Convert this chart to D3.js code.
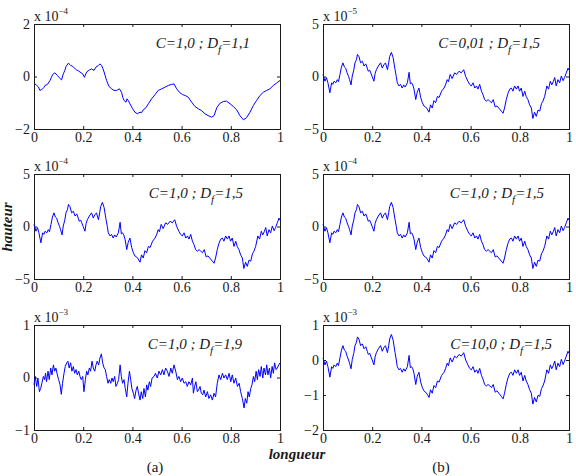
<!DOCTYPE html>
<html>
<head>
<meta charset="utf-8">
<script src="https://cdn.jsdelivr.net/npm/d3@7"></script>
<style>
  body { margin: 0; background: #fff; }
  svg text { font-family: "Liberation Serif", "Times New Roman", serif; }
</style>
</head>
<body>
<div id="chart"></div>
<script>
// ---- data ----
const xTicks = [0, 0.2, 0.4, 0.6, 0.8, 1];
const yTicks = [[-2, 0, 2], [-5, 0, 5], [-5, 0, 5], [-5, 0, 5], [-1, 0, 1], [-2, -1, 0, 1]];
const exponents = [-4, -5, -4, -4, -3, -3];
const cValues = ["1,0", "0,01", "1,0", "1,0", "1,0", "10,0"];
const dfValues = ["1,1", "1,5", "1,5", "1,5", "1,9", "1,5"];

// D_f = 1.1 profile (x 10^-4)
const xD11 = [0, 0.011, 0.018, 0.024, 0.03, 0.035, 0.04, 0.045, 0.055, 0.065,
  0.07, 0.076, 0.085, 0.095, 0.103, 0.112, 0.119, 0.125, 0.13, 0.14,
  0.149, 0.155, 0.16, 0.167, 0.173, 0.18, 0.187, 0.198, 0.205, 0.214,
  0.225, 0.234, 0.244, 0.252, 0.262, 0.268, 0.275, 0.28, 0.285, 0.295,
  0.305, 0.316, 0.325, 0.336, 0.347, 0.356, 0.361, 0.366, 0.374, 0.378,
  0.383, 0.39, 0.401, 0.41, 0.42, 0.431, 0.437, 0.444, 0.455, 0.465,
  0.478, 0.492, 0.505, 0.512, 0.519, 0.532, 0.546, 0.56, 0.569, 0.58,
  0.591, 0.604, 0.614, 0.627, 0.641, 0.654, 0.668, 0.681, 0.695, 0.708,
  0.722, 0.732, 0.743, 0.756, 0.77, 0.783, 0.797, 0.81, 0.824, 0.837,
  0.851, 0.864, 0.878, 0.892, 0.905, 0.919, 0.932, 0.946, 0.959, 0.973,
  0.986, 1];
const hD11 = [-0.25, -0.34, -0.4, -0.53, -0.5, -0.47, -0.42, -0.34, -0.3, -0.15,
  -0.05, 0.08, 0.14, 0.04, -0.05, -0.13, 0.1, 0.22, 0.38, 0.51,
  0.42, 0.4, 0.36, 0.3, 0.25, 0.22, 0.17, 0.1, -0.03, 0.17,
  0.25, 0.29, 0.23, 0.36, 0.42, 0.48, 0.42, 0.3, 0.17, -0.15,
  -0.38, -0.47, -0.53, -0.53, -0.47, -0.6, -0.8, -0.91, -0.98, -0.85,
  -0.91, -1.04, -1.23, -1.36, -1.42, -1.36, -1.38, -1.27, -1.19, -1.04,
  -0.85, -0.69, -0.53, -0.5, -0.47, -0.41, -0.34, -0.3, -0.28, -0.47,
  -0.6, -0.69, -0.72, -0.79, -0.98, -1.14, -1.23, -1.3, -1.42, -1.49,
  -1.55, -1.49, -1.19, -1.02, -0.95, -0.94, -1.04, -1.14, -1.27, -1.49,
  -1.65, -1.57, -1.36, -1.1, -0.91, -0.72, -0.6, -0.53, -0.47, -0.34,
  -0.25, -0.15];

// D_f = 1.5 profile (x 10^-5 for C=0,01 and x 10^-4 for C=1,0)
const xD15 = [0, 0.008, 0.014, 0.02, 0.028, 0.035, 0.04, 0.045, 0.052, 0.058,
  0.063, 0.069, 0.075, 0.081, 0.087, 0.092, 0.098, 0.104, 0.108, 0.114,
  0.119, 0.125, 0.13, 0.136, 0.14, 0.146, 0.153, 0.16, 0.167, 0.174,
  0.18, 0.184, 0.19, 0.194, 0.2, 0.207, 0.212, 0.217, 0.225, 0.234,
  0.241, 0.247, 0.254, 0.262, 0.267, 0.271, 0.278, 0.285, 0.293, 0.298,
  0.302, 0.309, 0.315, 0.322, 0.328, 0.334, 0.343, 0.35, 0.355, 0.36,
  0.365, 0.37, 0.377, 0.383, 0.39, 0.397, 0.404, 0.41, 0.417, 0.424,
  0.431, 0.437, 0.444, 0.451, 0.458, 0.465, 0.472, 0.482, 0.492, 0.498,
  0.505, 0.51, 0.517, 0.525, 0.535, 0.543, 0.553, 0.562, 0.572, 0.58,
  0.589, 0.596, 0.603, 0.61, 0.617, 0.624, 0.63, 0.637, 0.644, 0.65,
  0.657, 0.664, 0.671, 0.678, 0.685, 0.692, 0.7, 0.707, 0.718, 0.725,
  0.732, 0.738, 0.745, 0.752, 0.759, 0.766, 0.772, 0.779, 0.786, 0.793,
  0.799, 0.806, 0.813, 0.82, 0.826, 0.833, 0.84, 0.847, 0.853, 0.86,
  0.867, 0.874, 0.881, 0.888, 0.894, 0.901, 0.91, 0.917, 0.924, 0.93,
  0.936, 0.942, 0.948, 0.955, 0.962, 0.969, 0.976, 0.982, 0.989, 0.996,
  1];
const hD15 = [0.2, -0.45, -0.1, -0.6, -1.55, -0.6, -0.75, -0.45, -0.6, -0.3,
  -0.5, 0.2, 0.9, 1.3, 0.9, 0.8, 0.35, 0, -0.3, -0.8,
  0.05, 0.6, 1.3, 1.6, 2.1, 1.9, 1.3, 1.45, 1.0, 1.2,
  0.8, 0.5, 0.6, 0.35, 0, -0.45, 0.3, 0.65, 1.0, 1.3,
  0.8, 1.1, 1.3, 0.65, 1.3, 1.9, 2.3, 1.8, 0.65, 0,
  -0.6, -0.9, -0.75, -1.1, -0.8, -1.0, -0.6, 0.4, -0.7, -0.6,
  -0.8, -1.2, -2.2, -1.5, -1.1, -2.0, -2.5, -2.8, -2.9, -3.1,
  -3.4, -2.7, -3.0, -2.3, -2.5, -1.9, -2.0, -1.4, -1.1, -0.8,
  -0.3, -0.5, 0.2, -0.2, 0.35, 0.2, 0.5, 0.35, 0.65, 0,
  -0.45, -0.75, -0.9, -0.6, -1.1, -0.9, -1.2, -0.75, -1.4, -1.7,
  -2.2, -2.35, -2.2, -2.35, -2.5, -2.2, -2.9, -2.8, -3.1, -3.3,
  -3.5, -3.0, -2.2, -1.6, -1.2, -1.1, -1.4, -0.9, -1.2, -0.9,
  -1.4, -1.1, -1.9, -1.4, -1.9, -2.2, -2.7, -3.0, -4.0, -3.4,
  -3.8, -3.2, -3.3, -2.6, -2.35, -1.9, -0.9, -1.2, -0.45, -0.8,
  -0.5, -0.1, -0.9, -0.3, -0.6, 0.05, -0.4, -0.1, 0.35, 0.8,
  0.6];
// C = 10,0 profile (x 10^-3), same abscissae as xD15
const hC10 = [0.06, -0.14, -0.03, -0.19, -0.49, -0.19, -0.24, -0.14, -0.19, -0.09,
  -0.16, 0.06, 0.28, 0.41, 0.28, 0.25, 0.11, 0, -0.09, -0.25,
  0.02, 0.19, 0.41, 0.51, 0.66, 0.6, 0.41, 0.46, 0.32, 0.38,
  0.25, 0.16, 0.19, 0.11, 0, -0.14, 0.09, 0.21, 0.32, 0.41,
  0.25, 0.35, 0.41, 0.21, 0.41, 0.6, 0.73, 0.57, 0.21, 0,
  -0.19, -0.28, -0.24, -0.35, -0.25, -0.32, -0.19, 0.13, -0.22, -0.19,
  -0.25, -0.38, -0.7, -0.47, -0.35, -0.63, -0.79, -0.88, -0.92, -0.98,
  -1.07, -0.85, -0.95, -0.73, -0.79, -0.6, -0.63, -0.44, -0.35, -0.25,
  -0.09, -0.16, 0.06, -0.06, 0.11, 0.06, 0.16, 0.11, 0.21, 0,
  -0.14, -0.24, -0.28, -0.19, -0.35, -0.28, -0.38, -0.24, -0.44, -0.54,
  -0.7, -0.74, -0.7, -0.74, -0.79, -0.7, -0.92, -0.88, -0.98, -1.04,
  -1.11, -0.95, -0.7, -0.51, -0.38, -0.35, -0.44, -0.28, -0.38, -0.28,
  -0.44, -0.35, -0.6, -0.44, -0.6, -0.7, -0.85, -0.95, -1.26, -1.07,
  -1.2, -1.01, -1.04, -0.82, -0.74, -0.6, -0.28, -0.38, -0.14, -0.25,
  -0.16, -0.03, -0.28, -0.09, -0.19, 0.02, -0.13, -0.03, 0.11, 0.25,
  0.19];

// D_f = 1.9 profile (x 10^-3)
const xD19 = [0, 0.005, 0.011, 0.016, 0.022, 0.027, 0.032, 0.038, 0.043, 0.047,
  0.051, 0.057, 0.062, 0.068, 0.073, 0.079, 0.084, 0.089, 0.095, 0.1,
  0.106, 0.111, 0.116, 0.122, 0.127, 0.133, 0.138, 0.143, 0.149, 0.154,
  0.16, 0.165, 0.171, 0.176, 0.182, 0.187, 0.192, 0.198, 0.203, 0.209,
  0.214, 0.219, 0.225, 0.23, 0.236, 0.241, 0.247, 0.252, 0.257, 0.263,
  0.268, 0.274, 0.279, 0.285, 0.29, 0.295, 0.301, 0.306, 0.312, 0.317,
  0.322, 0.328, 0.333, 0.339, 0.344, 0.35, 0.355, 0.36, 0.366, 0.371,
  0.377, 0.382, 0.388, 0.393, 0.398, 0.404, 0.409, 0.415, 0.42, 0.425,
  0.431, 0.436, 0.442, 0.447, 0.453, 0.458, 0.463, 0.469, 0.474, 0.48,
  0.488, 0.494, 0.501, 0.508, 0.515, 0.522, 0.528, 0.535, 0.542, 0.549,
  0.556, 0.562, 0.569, 0.576, 0.583, 0.589, 0.596, 0.603, 0.61, 0.617,
  0.623, 0.63, 0.637, 0.644, 0.648, 0.653, 0.658, 0.664, 0.669, 0.675,
  0.68, 0.686, 0.691, 0.698, 0.705, 0.711, 0.718, 0.725, 0.732, 0.738,
  0.745, 0.752, 0.759, 0.766, 0.772, 0.779, 0.786, 0.793, 0.8, 0.806,
  0.813, 0.82, 0.827, 0.834, 0.84, 0.847, 0.854, 0.859, 0.865, 0.87,
  0.875, 0.881, 0.886, 0.892, 0.897, 0.903, 0.908, 0.913, 0.919, 0.924,
  0.93, 0.935, 0.941, 0.946, 0.951, 0.957, 0.962, 0.968, 0.973, 0.978,
  0.984, 0.989, 0.995, 1];
const hD19 = [-0.14, 0.02, -0.17, -0.01, -0.27, -0.21, -0.11, 0.02, -0.04, 0.08,
  -0.08, 0.12, -0.04, 0.18, 0.05, 0.24, 0.12, 0.18, 0.05, -0.04,
  -0.14, -0.32, -0.11, 0.08, 0.21, 0.28, 0.31, 0.18, 0.28, 0.12,
  0.21, 0.08, 0.15, 0.05, 0.12, 0.02, -0.04, 0.02, -0.27, -0.04,
  0.12, 0.05, 0.18, 0.12, 0.31, 0.18, 0.12, 0.24, 0.31, 0.24,
  0.37, 0.45, 0.28, 0.18, 0.15, 0.02, -0.11, -0.04, -0.11, -0.01,
  -0.08, 0.02, -0.17, -0.11, -0.04, 0.24, 0.02, -0.11, -0.04, -0.21,
  -0.37, -0.11, 0.12, -0.04, -0.21, -0.3, -0.4, -0.24, -0.17, -0.3,
  -0.43, -0.27, -0.4, -0.21, -0.37, -0.14, -0.24, -0.08, -0.17, -0.01,
  0.02, 0.08, -0.01, 0.12, 0.05, 0.15, 0.05, 0.18, 0.12, 0.02,
  0.18, 0.08, 0.24, 0.12, -0.04, 0.02, -0.08, -0.01, -0.11, -0.08,
  -0.17, -0.08, -0.14, -0.01, -0.3, -0.17, -0.08, -0.27, -0.24, -0.17,
  -0.3, -0.33, -0.24, -0.37, -0.27, -0.4, -0.33, -0.43, -0.3, -0.37,
  -0.11, 0.05, -0.04, 0.08, -0.01, 0.05, -0.04, 0.08, -0.08, 0.05,
  -0.11, -0.01, -0.17, -0.11, -0.27, -0.4, -0.58, -0.4, -0.49, -0.27,
  -0.37, -0.21, -0.14, 0.02, -0.08, 0.12, -0.04, 0.15, 0.02, 0.21,
  -0.01, 0.18, 0.05, 0.24, 0.05, 0.18, -0.01, 0.21, 0.08, 0.28,
  0.15, 0.18, 0.24, 0.28];

const profiles = [
  d3.zip(xD11, hD11), d3.zip(xD15, hD15), d3.zip(xD15, hD15),
  d3.zip(xD15, hD15), d3.zip(xD19, hD19), d3.zip(xD15, hC10)
];

// ---- layout ----
const width = 576, height = 476;
const panelW = 246, panelH = 105;
const colLeft = [34, 323];
const rowTop = [24, 174, 325];
const labelRight = [250, 540, 243, 544, 242, 552];
const serif = "Liberation Serif, Times New Roman, serif";
const ink = "#1a1a1a";

const svg = d3.select("#chart").append("svg")
  .attr("width", width)
  .attr("height", height)
  .attr("font-family", serif);

const x = d3.scaleLinear().domain([0, 1]).range([0, panelW]);

profiles.forEach((data, i) => {
  const col = i % 2, row = Math.floor(i / 2);
  const left = colLeft[col], top = rowTop[row];
  const ticks = yTicks[i];
  const y = d3.scaleLinear().domain(d3.extent(ticks)).range([panelH, 0]);

  const g = svg.append("g").attr("transform", `translate(${left},${top})`);

  const styleAxis = (sel) => {
    sel.attr("font-family", serif).attr("font-size", 14);
    sel.select(".domain").remove();
    sel.selectAll(".tick line").attr("stroke", ink);
    sel.selectAll("text").attr("fill", ink);
  };

  g.append("g")
    .attr("transform", `translate(0,${panelH})`)
    .call(d3.axisBottom(x).tickValues(xTicks).tickSizeInner(-3).tickSizeOuter(0)
      .tickPadding(3).tickFormat((d) => String(d)))
    .call(styleAxis);
  g.append("g")
    .call(d3.axisTop(x).tickValues(xTicks).tickSizeInner(-3).tickSizeOuter(0).tickFormat(""))
    .call(styleAxis);
  g.append("g")
    .call(d3.axisLeft(y).tickValues(ticks).tickSizeInner(-3).tickSizeOuter(0)
      .tickPadding(4).tickFormat((d) => (d < 0 ? "\u2212" + -d : String(d))))
    .call(styleAxis);
  g.append("g")
    .attr("transform", `translate(${panelW},0)`)
    .call(d3.axisRight(y).tickValues(ticks).tickSizeInner(-3).tickSizeOuter(0).tickFormat(""))
    .call(styleAxis);

  g.append("rect")
    .attr("x", 0.5).attr("y", 0.5)
    .attr("width", panelW).attr("height", panelH)
    .attr("fill", "none")
    .attr("stroke", ink)
    .attr("stroke-width", 1);

  // profile line
  g.append("path")
    .datum(data)
    .attr("fill", "none")
    .attr("stroke", "#0000ff")
    .attr("stroke-width", 1)
    .attr("stroke-linejoin", "round")
    .attr("d", d3.line().x((d) => x(d[0])).y((d) => y(d[1])));

  // exponent "x 10^n"
  const ex = svg.append("text")
    .attr("x", left)
    .attr("y", top - 3)
    .attr("fill", ink)
    .attr("font-size", 14);
  ex.append("tspan").text("x 10");
  ex.append("tspan")
    .attr("font-size", 9)
    .attr("dy", -7)
    .text("\u2212" + -exponents[i]);

  // annotation C ; D_f
  const lab = svg.append("text")
    .attr("x", labelRight[i])
    .attr("y", top + 24)
    .attr("text-anchor", "end")
    .attr("font-style", "italic")
    .attr("font-size", 15)
    .attr("fill", ink);
  lab.append("tspan").text(`C=${cValues[i]} ; D`);
  lab.append("tspan").attr("font-size", 11).attr("dy", 5).text("f");
  lab.append("tspan").attr("dy", -5).text(`=${dfValues[i]}`);
});

// axis titles and panel letters
svg.append("text")
  .attr("transform", "translate(12,227) rotate(-90)")
  .attr("text-anchor", "middle")
  .attr("font-style", "italic")
  .attr("font-weight", "bold")
  .attr("font-size", 15)
  .attr("fill", ink)
  .text("hauteur");

svg.append("text")
  .attr("x", 297)
  .attr("y", 459)
  .attr("text-anchor", "middle")
  .attr("font-style", "italic")
  .attr("font-weight", "bold")
  .attr("font-size", 15)
  .attr("fill", ink)
  .text("longueur");

svg.append("text")
  .attr("x", 155).attr("y", 472)
  .attr("text-anchor", "middle")
  .attr("font-size", 15)
  .attr("fill", ink)
  .text("(a)");

svg.append("text")
  .attr("x", 441).attr("y", 472)
  .attr("text-anchor", "middle")
  .attr("font-size", 15)
  .attr("fill", ink)
  .text("(b)");
</script>
</body>
</html>
